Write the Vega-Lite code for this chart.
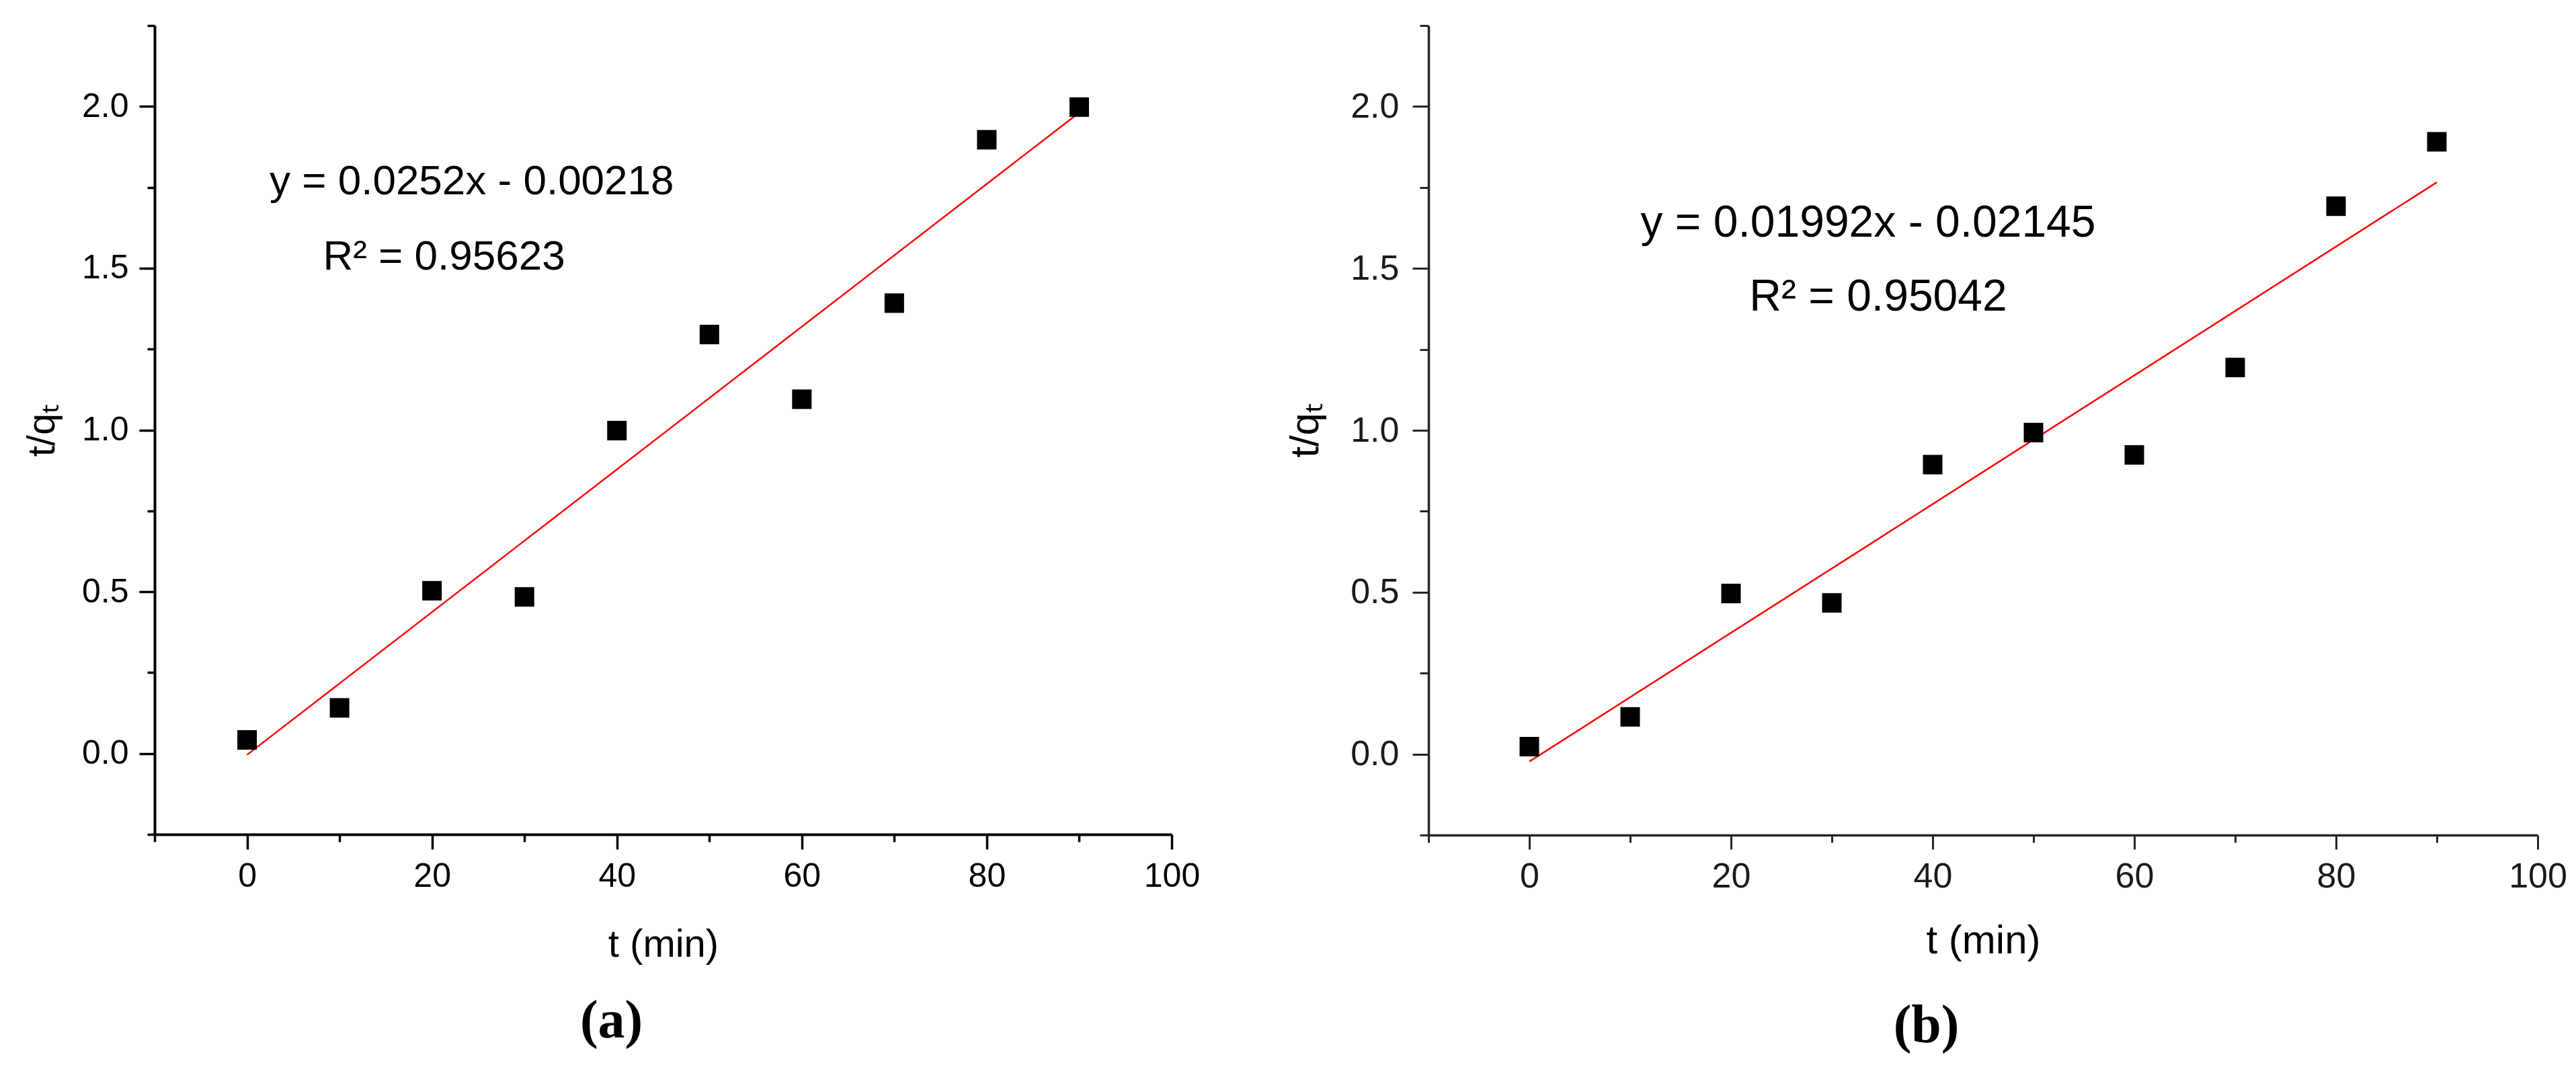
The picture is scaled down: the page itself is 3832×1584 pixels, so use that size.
{
  "$schema": "https://vega.github.io/schema/vega-lite/v6.json",
  "background": "white",
  "padding": {"left": 34, "top": 12, "right": 20, "bottom": 10},
  "config": {
    "view": {"stroke": null},
    "font": "Liberation Sans"
  },
  "datasets": {
    "a_points": [
      {"t": 0, "v": 0.042}, {"t": 10, "v": 0.141}, {"t": 20, "v": 0.503}, {"t": 30, "v": 0.484},
      {"t": 40, "v": 0.998}, {"t": 50, "v": 1.295}, {"t": 60, "v": 1.095}, {"t": 70, "v": 1.392},
      {"t": 80, "v": 1.897}, {"t": 90, "v": 1.998}
    ],
    "a_fit": [{"t": 0, "v": -0.004}, {"t": 90, "v": 1.981}],
    "a_text": [
      {"t": 24.3, "v": 1.767, "label": "y = 0.0252x - 0.00218"},
      {"t": 21.3, "v": 1.536, "label": "R² = 0.95623"}
    ],
    "b_points": [
      {"t": 0, "v": 0.023}, {"t": 10, "v": 0.115}, {"t": 20, "v": 0.496}, {"t": 30, "v": 0.467},
      {"t": 40, "v": 0.894}, {"t": 50, "v": 0.993}, {"t": 60, "v": 0.924}, {"t": 70, "v": 1.194},
      {"t": 80, "v": 1.692}, {"t": 90, "v": 1.891}
    ],
    "b_fit": [{"t": 0, "v": -0.023}, {"t": 90, "v": 1.766}],
    "b_text": [
      {"t": 33.6, "v": 1.639, "label": "y = 0.01992x - 0.02145"},
      {"t": 34.6, "v": 1.411, "label": "R² = 0.95042"}
    ]
  },
  "hconcat": [
    {
      "width": 1513,
      "height": 1203,
      "title": {"text": "(a)", "orient": "bottom", "anchor": "middle", "frame": "bounds", "font": "Liberation Serif", "fontSize": 80, "fontWeight": "bold", "color": "black", "offset": 46},
      "encoding": {
        "x": {
          "field": "t", "type": "quantitative",
          "scale": {"domain": [-10, 100], "nice": false, "zero": false},
          "axis": {
            "title": "t (min)",
            "values": [-10, 0, 10, 20, 30, 40, 50, 60, 70, 80, 90, 100],
            "labelExpr": "datum.value % 20 === 0 ? datum.label : ''",
            "tickSize": {"condition": {"test": "datum.value % 20 === 0", "value": 22}, "value": 11},
            "grid": false, "domainColor": "black", "domainWidth": 4, "tickColor": "black", "tickWidth": 3.5,
            "labelFont": "Liberation Sans", "labelFontSize": 50, "labelColor": "black", "labelPadding": 15,
            "labelOverlap": false, "labelFlush": false,
            "titleFont": "Liberation Sans", "titleFontSize": 58, "titleFontWeight": "normal", "titleColor": "black", "titlePadding": 48
          }
        },
        "y": {
          "field": "v", "type": "quantitative",
          "scale": {"domain": [-0.25, 2.25], "nice": false, "zero": false},
          "axis": {
            "title": "t/qₜ",
            "values": [-0.25, 0, 0.25, 0.5, 0.75, 1, 1.25, 1.5, 1.75, 2, 2.25],
            "format": ".1f",
            "labelExpr": "abs(datum.value * 2 - round(datum.value * 2)) < 0.000001 ? datum.label : ''",
            "tickSize": {"condition": {"test": "abs(datum.value * 2 - round(datum.value * 2)) < 0.000001", "value": 23}, "value": 11},
            "grid": false, "domainColor": "black", "domainWidth": 4, "tickColor": "black", "tickWidth": 3.5,
            "labelFont": "Liberation Sans", "labelFontSize": 50, "labelColor": "black", "labelPadding": 16,
            "labelOverlap": false, "labelFlush": false,
            "titleFont": "Liberation Sans", "titleFontSize": 58, "titleFontWeight": "normal", "titleColor": "black", "titlePadding": 29
          }
        }
      },
      "layer": [
        {"data": {"name": "a_fit"}, "mark": {"type": "line", "color": "#ff0000", "strokeWidth": 2.5}},
        {"data": {"name": "a_points"}, "mark": {"type": "point", "shape": "square", "filled": true, "color": "black", "size": 841, "opacity": 1}},
        {"data": {"name": "a_text"}, "mark": {"type": "text", "font": "Liberation Sans", "fontSize": 62, "color": "black", "align": "center", "baseline": "middle"},
         "encoding": {"text": {"field": "label"}}}
      ]
    },
    {
      "width": 1650,
      "height": 1204,
      "title": {"text": "(b)", "orient": "bottom", "anchor": "middle", "frame": "bounds", "font": "Liberation Serif", "fontSize": 80, "fontWeight": "bold", "color": "black", "offset": 58},
      "encoding": {
        "x": {
          "field": "t", "type": "quantitative",
          "scale": {"domain": [-10, 100], "nice": false, "zero": false},
          "axis": {
            "title": "t (min)",
            "values": [-10, 0, 10, 20, 30, 40, 50, 60, 70, 80, 90, 100],
            "labelExpr": "datum.value % 20 === 0 ? datum.label : ''",
            "tickSize": {"condition": {"test": "datum.value % 20 === 0", "value": 21}, "value": 11},
            "grid": false, "domainColor": "#262626", "domainWidth": 3.5, "tickColor": "#262626", "tickWidth": 3,
            "labelFont": "Liberation Sans", "labelFontSize": 52, "labelColor": "#1a1a1a", "labelPadding": 15,
            "labelOverlap": false, "labelFlush": false,
            "titleFont": "Liberation Sans", "titleFontSize": 60, "titleFontWeight": "normal", "titleColor": "black", "titlePadding": 41
          }
        },
        "y": {
          "field": "v", "type": "quantitative",
          "scale": {"domain": [-0.25, 2.25], "nice": false, "zero": false},
          "axis": {
            "title": "t/qₜ",
            "values": [-0.25, 0, 0.25, 0.5, 0.75, 1, 1.25, 1.5, 1.75, 2, 2.25],
            "format": ".1f",
            "labelExpr": "abs(datum.value * 2 - round(datum.value * 2)) < 0.000001 ? datum.label : ''",
            "tickSize": {"condition": {"test": "abs(datum.value * 2 - round(datum.value * 2)) < 0.000001", "value": 24}, "value": 13},
            "grid": false, "domainColor": "#262626", "domainWidth": 3.5, "tickColor": "#262626", "tickWidth": 3,
            "labelFont": "Liberation Sans", "labelFontSize": 52, "labelColor": "#1a1a1a", "labelPadding": 20,
            "labelOverlap": false, "labelFlush": false,
            "titleFont": "Liberation Sans", "titleFontSize": 60, "titleFontWeight": "normal", "titleColor": "black", "titlePadding": 35
          }
        }
      },
      "layer": [
        {"data": {"name": "b_fit"}, "mark": {"type": "line", "color": "#ff0000", "strokeWidth": 2.5}},
        {"data": {"name": "b_points"}, "mark": {"type": "point", "shape": "square", "filled": true, "color": "black", "size": 841, "opacity": 1}},
        {"data": {"name": "b_text"}, "mark": {"type": "text", "font": "Liberation Sans", "fontSize": 66, "color": "black", "align": "center", "baseline": "middle"},
         "encoding": {"text": {"field": "label"}}}
      ]
    }
  ],
  "bounds": "flush",
  "spacing": 382
}
